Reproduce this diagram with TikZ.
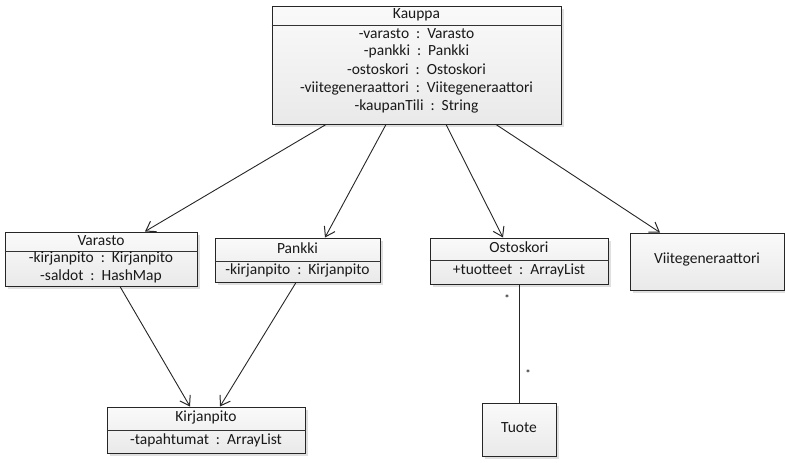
\documentclass[tikz,border=0pt]{standalone}
\usepackage{fontspec}
\setmainfont{Carlito}
\usetikzlibrary{arrows.meta,shadows,calc}
\newcommand{\cln}{\hspace{0.45em}:\hspace{0.45em}}
\begin{document}
\begin{tikzpicture}[x=1pt,y=-1pt,
  cls/.style={draw=black!85, line width=1pt, top color=gray!4, bottom color=gray!17, rectangle, inner sep=0pt,
    drop shadow={opacity=0.25,shadow xshift=3pt,shadow yshift=-3pt}},
  sep/.style={draw=black!80, line width=1pt},
  txt/.style={font=\fontsize{15.5}{17}\selectfont, inner sep=0pt, text=black!90},
  mult/.style={font=\fontsize{11}{12}\selectfont, inner sep=0pt},
  assoc/.style={draw=black!85, line width=0.9pt, -{Straight Barb[length=9pt,width=12pt,line width=1pt]}},
  link/.style={draw=black!85, line width=0.9pt}]
\useasboundingbox (0,0) rectangle (785,463);
% Kauppa
\node[cls, minimum width=289pt, minimum height=118pt] (kauppa) at (416.5,65) {};
\draw[sep] (kauppa.west |- 0,25) -- (kauppa.east |- 0,25);
\node[txt] (kT) at (416.5,15) {Kauppa};
\node[txt] (k1) at (416.5,33.5) {-varasto\cln Varasto};
\node[txt] (k2) at (416.5,51.5) {-pankki\cln Pankki};
\node[txt] (k3) at (416.5,69.5) {-ostoskori\cln Ostoskori};
\node[txt] (k4) at (416.5,88) {-viitegeneraattori\cln Viitegeneraattori};
\node[txt] (k5) at (416.5,106.5) {-kaupanTili\cln String};
% Varasto
\node[cls, minimum width=192pt, minimum height=54pt] (varasto) at (101,259) {};
\draw[sep] (varasto.west |- 0,251) -- (varasto.east |- 0,251);
\node[txt] (vT) at (101,241) {Varasto};
\node[txt] (v1) at (101,258.5) {-kirjanpito\cln Kirjanpito};
\node[txt] (v2) at (101,276.5) {-saldot\cln HashMap};
% Pankki
\node[cls, minimum width=165pt, minimum height=44pt] (pankki) at (297.5,260) {};
\draw[sep] (pankki.west |- 0,261) -- (pankki.east |- 0,261);
\node[txt] (pT) at (297.5,248) {Pankki};
\node[txt] (p1) at (297.5,270.5) {-kirjanpito\cln Kirjanpito};
% Ostoskori
\node[cls, minimum width=178pt, minimum height=46pt] (ostoskori) at (519,261) {};
\draw[sep] (ostoskori.west |- 0,260) -- (ostoskori.east |- 0,260);
\node[txt] (oT) at (519,247.5) {Ostoskori};
\node[txt] (o1) at (519,270.5) {+tuotteet\cln ArrayList};
% Viitegeneraattori
\node[cls, minimum width=154pt, minimum height=57pt] (viite) at (707,261.5) {};
\node[txt] (viT) at (707,259.5) {Viitegeneraattori};
% Kirjanpito
\node[cls, minimum width=198pt, minimum height=46pt] (kirjanpito) at (206,430) {};
\draw[sep] (kirjanpito.west |- 0,430) -- (kirjanpito.east |- 0,430);
\node[txt] (kiT) at (206,417) {Kirjanpito};
\node[txt] (ki1) at (206,440.5) {-tapahtumat\cln ArrayList};
% Tuote
\node[cls, minimum width=74pt, minimum height=53pt] (tuote) at (519,429.5) {};
\node[txt] (tT) at (519,428) {Tuote};
% connectors
\draw[assoc] ([xshift=-90.5pt]kauppa.south) -- ([xshift=44pt]varasto.north);
\draw[assoc] ([xshift=-30.5pt]kauppa.south) -- ([xshift=27.5pt]pankki.north);
\draw[assoc] ([xshift=29.5pt]kauppa.south) -- ([xshift=-16pt]ostoskori.north);
\draw[assoc] ([xshift=79.5pt]kauppa.south) -- ([xshift=-47pt]viite.north);
\draw[assoc] ([xshift=19pt]varasto.south) -- ([xshift=-16pt]kirjanpito.north);
\draw[assoc] ([xshift=-1.5pt]pankki.south) -- ([xshift=14pt]kirjanpito.north);
\draw[link] (ostoskori.south) -- (tuote.north);
\node[mult] (m1) at (507,299) {*};
\node[mult] (m2) at (528,374) {*};
\end{tikzpicture}
\end{document}
